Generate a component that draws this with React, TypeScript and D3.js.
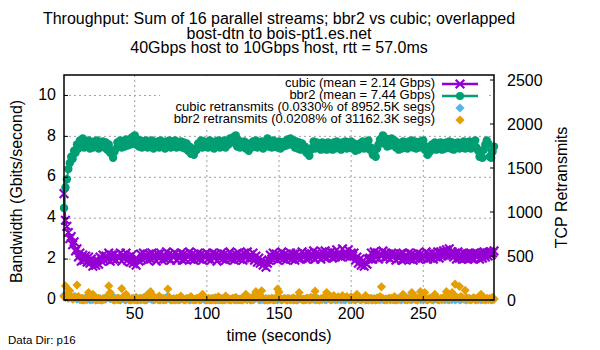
import * as d3 from 'd3';

// per-second samples, t = 1..299
const cubicGbps = [
  5.2, 3.9, 3.6, 3.3, 3.0, 3.1, 2.7, 2.85, 2.4, 2.5, 2.1, 2.3, 1.9, 2.2, 1.95, 2.15, 1.85, 2.1, 1.8, 2.0,
  1.65, 1.85, 1.7, 1.95, 1.75, 2.1, 1.9, 2.2, 1.95, 2.15, 2.0, 2.3, 1.9, 2.2, 2.0, 2.25, 1.95, 2.15, 2.05, 2.3,
  1.9, 2.2, 2.05, 2.3, 1.95, 2.1, 1.85, 2.2, 1.8, 1.95, 1.7, 2.0, 1.9, 2.25, 2.0, 2.3, 2.05, 2.2, 1.95, 2.25,
  2.0, 2.3, 2.05, 2.2, 1.9, 2.25, 2.05, 2.3, 1.95, 2.2, 2.0, 2.35, 2.05, 2.25, 1.95, 2.2, 2.1, 2.3, 1.95, 2.2,
  2.05, 2.3, 1.95, 2.25, 2.0, 2.2, 2.1, 2.35, 2.0, 2.25, 1.95, 2.2, 2.05, 2.3, 2.0, 2.25, 1.95, 2.2, 2.1, 2.3,
  2.0, 2.2, 1.95, 2.3, 2.05, 2.25, 1.9, 2.2, 2.05, 2.3, 2.0, 2.25, 1.95, 2.2, 2.05, 2.35, 2.0, 2.2, 1.95, 2.25,
  2.05, 2.3, 2.0, 2.2, 1.95, 2.3, 2.1, 2.35, 2.0, 2.2, 2.05, 2.3, 1.95, 2.15, 1.85, 2.05, 1.8, 1.95, 1.7, 1.85,
  1.6, 1.8, 1.95, 2.2, 2.0, 2.3, 2.05, 2.25, 1.95, 2.2, 2.05, 2.35, 2.0, 2.25, 1.95, 2.2, 2.05, 2.3, 2.0, 2.25,
  1.95, 2.3, 2.05, 2.2, 2.0, 2.35, 2.1, 2.25, 2.0, 2.3, 2.05, 2.25, 2.1, 2.4, 2.0, 2.3, 2.1, 2.25, 2.0, 2.35,
  2.1, 2.4, 2.05, 2.3, 2.15, 2.35, 2.05, 2.3, 2.1, 2.45, 2.15, 2.3, 2.1, 2.5, 2.2, 2.35, 2.15, 2.45, 2.1, 2.3,
  2.15, 2.3, 1.95, 2.1, 1.8, 2.0, 1.7, 1.9, 1.65, 1.8, 1.75, 2.0, 2.05, 2.3, 2.0, 2.35, 2.1, 2.3, 2.0, 2.25,
  2.15, 2.4, 2.05, 2.3, 2.1, 2.25, 2.0, 2.3, 2.1, 2.25, 1.95, 2.2, 2.05, 2.25, 1.95, 2.3, 2.0, 2.2, 2.05, 2.3,
  2.0, 2.25, 1.95, 2.2, 2.05, 2.3, 2.0, 2.25, 2.05, 2.2, 2.1, 2.35, 2.0, 2.25, 2.05, 2.3, 2.0, 2.25, 2.1, 2.35,
  2.05, 2.35, 2.15, 2.4, 2.2, 2.45, 2.15, 2.5, 2.2, 2.35, 2.1, 2.3, 2.0, 2.35, 2.05, 2.25, 2.0, 2.3, 2.05, 2.25,
  2.0, 2.3, 2.05, 2.25, 2.0, 2.3, 2.1, 2.25, 2.0, 2.3, 2.05, 2.35, 2.1, 2.3, 2.15, 2.35, 2.2, 2.3, 2.4,
];

const bbr2Gbps = [
  4.5, 5.5, 5.9, 6.4, 6.7, 7.0, 6.9, 7.3, 7.2, 7.6, 7.4, 7.8, 7.6, 7.9, 7.45, 7.75, 7.5, 7.8, 7.4, 7.7,
  7.45, 7.75, 7.5, 7.8, 7.4, 7.7, 7.5, 7.75, 7.45, 7.7, 7.35, 7.6, 7.2, 7.3, 6.95, 7.25, 7.4, 7.7, 7.5, 7.8,
  7.45, 7.7, 7.5, 7.85, 7.55, 7.75, 7.6, 7.95, 7.7, 8.05, 7.6, 7.85, 7.5, 7.8, 7.45, 7.75, 7.55, 7.8, 7.45, 7.7,
  7.5, 7.8, 7.4, 7.7, 7.5, 7.75, 7.45, 7.8, 7.5, 7.7, 7.4, 7.75, 7.5, 7.8, 7.45, 7.7, 7.55, 7.8, 7.45, 7.7,
  7.5, 7.75, 7.45, 7.7, 7.4, 7.65, 7.3, 7.5, 7.15, 7.4, 7.1, 7.3, 7.35, 7.65, 7.5, 7.8, 7.45, 7.75, 7.5, 7.7,
  7.45, 7.8, 7.5, 7.7, 7.4, 7.75, 7.5, 7.8, 7.45, 7.7, 7.5, 7.8, 7.45, 7.75, 7.6, 7.9, 7.7, 7.95, 7.75, 8.05,
  7.5, 7.8, 7.45, 7.7, 7.5, 7.75, 7.4, 7.65, 7.3, 7.6, 7.45, 7.75, 7.5, 7.8, 7.45, 7.7, 7.5, 7.75, 7.4, 7.7,
  7.6, 7.9, 7.5, 7.75, 7.45, 7.8, 7.5, 7.7, 7.45, 7.75, 7.4, 7.7, 7.5, 7.75, 7.55, 7.85, 7.6, 7.9, 7.7, 7.8,
  7.45, 7.75, 7.4, 7.7, 7.35, 7.65, 7.4, 7.5, 7.2, 7.3, 7.05, 7.35, 7.45, 7.75, 7.4, 7.7, 7.45, 7.65, 7.35, 7.7,
  7.4, 7.65, 7.35, 7.7, 7.45, 7.6, 7.35, 7.7, 7.4, 7.75, 7.45, 7.65, 7.35, 7.7, 7.45, 7.75, 7.4, 7.7, 7.45, 7.75,
  7.4, 7.65, 7.3, 7.55, 7.35, 7.65, 7.45, 7.75, 7.4, 7.7, 7.5, 7.8, 7.35, 7.45, 7.1, 7.2, 7.0, 7.4, 7.6, 7.85,
  7.7, 8.05, 7.65, 7.9, 7.5, 7.85, 7.55, 7.9, 7.6, 7.8, 7.45, 7.7, 7.35, 7.6, 7.4, 7.75, 7.45, 7.7, 7.4, 7.75,
  7.5, 7.8, 7.45, 7.75, 7.4, 7.7, 7.45, 7.75, 7.5, 7.8, 7.35, 7.5, 7.1, 7.2, 7.3, 7.6, 7.4, 7.7, 7.35, 7.65,
  7.4, 7.7, 7.35, 7.65, 7.4, 7.7, 7.45, 7.75, 7.4, 7.7, 7.35, 7.65, 7.45, 7.7, 7.4, 7.65, 7.45, 7.75, 7.4, 7.7,
  7.45, 7.75, 7.4, 7.7, 7.5, 7.8, 7.45, 7.3, 7.0, 7.2, 6.95, 7.35, 7.6, 7.8, 7.65, 7.0, 6.95, 7.25, 7.5,
];

const cubicRetrans = [
  50, 30, 60, 20, 45, 35, 15, 40, 25, 10, 20, 5, 15, 0, 10, 25, 5, 15, 0, 10,
  5, 20, 0, 10, 5, 15, 0, 5, 20, 10, 40, 30, 15, 55, 5, 0, 10, 20, 5, 0,
  10, 20, 5, 0, 15, 10, 0, 5, 20, 10, 0, 5, 15, 0, 10, 25, 5, 0, 10, 40,
  15, 5, 0, 10, 20, 5, 0, 15, 10, 0, 5, 20, 45, 10, 0, 5, 15, 0, 10, 5,
  0, 10, 15, 5, 0, 20, 10, 0, 5, 15, 0, 10, 5, 20, 0, 5, 15, 10, 0, 5,
  10, 0, 15, 5, 20, 0, 10, 5, 0, 15, 10, 0, 5, 20, 5, 0, 10, 15, 0, 5,
  0, 10, 5, 15, 0, 20, 10, 5, 30, 0, 15, 5, 10, 40, 20, 5, 0, 10, 5, 0,
  15, 0, 10, 5, 20, 0, 5, 10, 0, 15, 5, 0, 10, 20, 5, 0, 15, 5, 10, 0,
  5, 15, 0, 10, 20, 5, 0, 10, 5, 15, 0, 5, 20, 10, 0, 5, 15, 0, 10, 5,
  20, 0, 5, 15, 10, 0, 5, 20, 0, 10, 5, 15, 0, 10, 5, 0, 20, 10, 5, 0,
  15, 5, 0, 10, 20, 5, 0, 15, 10, 0, 5, 20, 10, 0, 5, 15, 0, 5, 10, 0,
  15, 5, 0, 10, 5, 20, 0, 15, 10, 5, 0, 10, 20, 5, 0, 15, 5, 10, 0, 20,
  5, 0, 15, 10, 5, 0, 20, 5, 10, 0, 15, 5, 0, 10, 20, 5, 0, 15, 10, 5,
  0, 10, 5, 20, 0, 15, 5, 0, 10, 5, 20, 0, 10, 15, 5, 0, 25, 10, 5, 0,
  15, 5, 0, 10, 20, 0, 5, 15, 10, 0, 5, 20, 0, 10, 5, 15, 0, 5, 10,
];

const bbr2Retrans = [
  40, 160, 60, 25, 105, 30, 10, 20, 35, 170, 40, 15, 5, 20, 0, 10, 25, 85, 50, 20,
  65, 15, 0, 10, 20, 5, 0, 15, 10, 25, 30, 160, 85, 20, 10, 0, 15, 5, 20, 10,
  130, 35, 10, 65, 20, 5, 0, 15, 10, 5, 30, 0, 10, 20, 15, 5, 0, 25, 65, 20,
  95, 60, 15, 5, 20, 10, 45, 0, 15, 20, 10, 5, 125, 30, 15, 0, 10, 5, 20, 15,
  10, 45, 20, 5, 0, 15, 10, 25, 40, 10, 5, 0, 20, 15, 5, 10, 65, 30, 15, 5,
  20, 10, 0, 15, 5, 25, 10, 40, 15, 5, 0, 20, 45, 10, 15, 5, 0, 20, 10, 30,
  15, 5, 10, 0, 20, 15, 65, 10, 25, 5, 0, 40, 20, 95, 30, 15, 55, 105, 20, 5,
  10, 0, 15, 5, 20, 10, 0, 30, 125, 90, 20, 5, 10, 15, 0, 20, 10, 5, 15, 25,
  10, 0, 20, 85, 15, 5, 10, 0, 20, 15, 5, 30, 10, 20, 100, 15, 5, 0, 10, 20,
  15, 30, 85, 20, 10, 40, 15, 50, 20, 10, 35, 25, 15, 50, 30, 20, 40, 10, 25, 35,
  15, 20, 10, 65, 25, 10, 5, 20, 15, 50, 10, 0, 15, 20, 5, 10, 0, 25, 15, 40,
  150, 20, 5, 10, 0, 15, 20, 10, 5, 40, 15, 0, 10, 20, 30, 65, 15, 5, 20, 10,
  15, 85, 20, 10, 30, 5, 20, 95, 40, 15, 85, 10, 5, 20, 15, 10, 25, 65, 20, 10,
  5, 15, 20, 10, 40, 95, 15, 30, 20, 85, 45, 180, 30, 25, 155, 40, 20, 15, 110, 25,
  10, 20, 5, 15, 25, 10, 20, 5, 30, 65, 15, 10, 5, 20, 10, 15, 5, 30, 10,
];

const titleLines = [
  'Throughput: Sum of 16 parallel streams; bbr2 vs cubic; overlapped',
  'bost-dtn to bois-pt1.es.net',
  '40Gbps host to 10Gbps host, rtt = 57.0ms',
];
const xTicks = [50, 100, 150, 200, 250];
const yTicks = [0, 2, 4, 6, 8, 10];
const y2Ticks = [0, 500, 1000, 1500, 2000, 2500];
const legendLabels = [
  'cubic (mean = 2.14 Gbps)',
  'bbr2 (mean = 7.44 Gbps)',
  'cubic retransmits (0.0330% of 8952.5K segs)',
  'bbr2 retransmits (0.0208% of 31162.3K segs)',
];

const PURPLE = '#9400d3';
const GREEN = '#009e73';
const BLUE = '#56b4e9';
const ORANGE = '#e69f00';
const FONT = '"Liberation Sans", Arial, sans-serif';

const W = 600;
const H = 350;
const left = 64;
const right = 494;
const top = 75;
const bottom = 300;

const x = d3.scaleLinear().domain([1, 299]).range([left, right]);
const y = d3.scaleLinear().domain([0, 11]).range([bottom, top]);
const y2 = d3.scaleLinear().domain([0, 2557]).range([bottom, top]);

const line = d3
  .line<number>()
  .x((_, i) => x(i + 1))
  .y((d) => y(d));

const cross = (cx: number, cy: number, s = 4.3) =>
  `M${cx - s},${cy - s}L${cx + s},${cy + s}M${cx - s},${cy + s}L${cx + s},${cy - s}`;
const diamond = (cx: number, cy: number, s = 4.6) =>
  `M${cx},${cy - s}L${cx + s},${cy}L${cx},${cy + s}L${cx - s},${cy}Z`;

export default function App() {
  const legendY = [84, 96, 108, 120];
  const legendTextX = 435;
  const sampleX0 = 442;
  const sampleX1 = 478;
  const sampleMid = 460;

  return (
    <svg
      width={W}
      height={H}
      style={{ position: 'absolute', left: 0, top: 0, background: '#fff' }}
      fontFamily={FONT}
    >
      <rect width={W} height={H} fill="#fff" />

      {/* title */}
      {titleLines.map((t, i) => (
        <text key={t} x={279} y={20 + i * 14.5} textAnchor="middle" dominantBaseline="middle" fontSize={16}>
          {t}
        </text>
      ))}

      {/* grid */}
      <g stroke="#a0a0a0" strokeWidth={1} strokeDasharray="2,3">
        {xTicks.map((t) => (
          <line key={t} x1={x(t)} x2={x(t)} y1={top} y2={bottom} />
        ))}
        {yTicks.slice(1).map((t) => (
          <line key={t} x1={left} x2={right} y1={y(t)} y2={y(t)} />
        ))}
      </g>

      {/* opaque key */}
      <rect x={160} y={76} width={328} height={51} fill="#fff" />

      {/* series */}
      <path d={line(cubicGbps) ?? ''} fill="none" stroke={PURPLE} strokeWidth={2} />
      <path
        d={cubicGbps.map((d, i) => cross(x(i + 1), y(d))).join('')}
        fill="none"
        stroke={PURPLE}
        strokeWidth={2.2}
      />
      <path d={line(bbr2Gbps) ?? ''} fill="none" stroke={GREEN} strokeWidth={2} />
      {bbr2Gbps.map((d, i) => (
        <circle key={i} cx={x(i + 1)} cy={y(d)} r={4.2} fill={GREEN} />
      ))}
      <path d={cubicRetrans.map((d, i) => diamond(x(i + 1), y2(d))).join('')} fill={BLUE} />
      <path d={bbr2Retrans.map((d, i) => diamond(x(i + 1), y2(d))).join('')} fill={ORANGE} />

      {/* key */}
      <g fontSize={13} textAnchor="end">
        {legendLabels.map((t, i) => (
          <text key={t} x={legendTextX} y={legendY[i]} dominantBaseline="middle">
            {t}
          </text>
        ))}
      </g>
      <line x1={sampleX0} x2={sampleX1} y1={legendY[0]} y2={legendY[0]} stroke={PURPLE} strokeWidth={2.5} />
      <path d={cross(sampleMid, legendY[0])} stroke={PURPLE} strokeWidth={2.2} />
      <line x1={sampleX0} x2={sampleX1} y1={legendY[1]} y2={legendY[1]} stroke={GREEN} strokeWidth={2.5} />
      <circle cx={sampleMid} cy={legendY[1]} r={4} fill={GREEN} />
      <path d={diamond(sampleMid, legendY[2])} fill={BLUE} />
      <path d={diamond(sampleMid, legendY[3])} fill={ORANGE} />

      {/* border and ticks */}
      <rect x={left} y={top} width={right - left} height={bottom - top} fill="none" stroke="#000" strokeWidth={1.5} />
      <g stroke="#000" strokeWidth={1}>
        {yTicks.map((t) => (
          <line key={t} x1={left} x2={left + 4} y1={y(t)} y2={y(t)} />
        ))}
        {y2Ticks.map((t) => (
          <line key={t} x1={right - 4} x2={right} y1={y2(t)} y2={y2(t)} />
        ))}
        {xTicks.map((t) => (
          <line key={t} x1={x(t)} x2={x(t)} y1={bottom} y2={bottom - 4} />
        ))}
      </g>

      {/* tick labels */}
      <g fontSize={16}>
        {yTicks.map((t) => (
          <text key={t} x={56} y={y(t)} textAnchor="end" dominantBaseline="middle">
            {t}
          </text>
        ))}
        {y2Ticks.map((t) => (
          <text key={t} x={507} y={y2(t) + 2} textAnchor="start" dominantBaseline="middle">
            {t}
          </text>
        ))}
        {xTicks.map((t) => (
          <text key={t} x={x(t)} y={315} textAnchor="middle" dominantBaseline="middle">
            {t}
          </text>
        ))}
      </g>

      {/* axis titles */}
      <text
        transform={`translate(18,${(top + bottom) / 2 + 4}) rotate(-90)`}
        textAnchor="middle"
        dominantBaseline="middle"
        fontSize={16}
      >
        Bandwidth (Gbits/second)
      </text>
      <text
        transform={`translate(563,${(top + bottom) / 2}) rotate(-90)`}
        textAnchor="middle"
        dominantBaseline="middle"
        fontSize={16}
      >
        TCP Retransmits
      </text>
      <text x={(left + right) / 2} y={337} textAnchor="middle" dominantBaseline="middle" fontSize={16}>
        time (seconds)
      </text>
      <text x={8} y={341} dominantBaseline="middle" fontSize={11.5}>
        Data Dir: p16
      </text>
    </svg>
  );
}
